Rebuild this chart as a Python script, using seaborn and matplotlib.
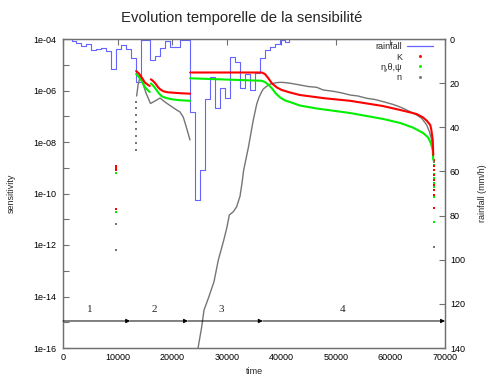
import numpy as np
import pandas as pd
import matplotlib
matplotlib.use("Agg")
import matplotlib.pyplot as plt
import seaborn as sns
from matplotlib.lines import Line2D
from matplotlib.ticker import FixedLocator, FuncFormatter, NullLocator

# ---------------------------------------------------------------- data
# rainfall intensity (mm/h), each value holds from its time to the next one
rain_time = [0, 1650, 2440, 3350, 4270, 5190, 6100, 7020, 7940, 8850,
             9770, 10680, 11600, 12520, 13380, 14350, 16000, 16910, 17830, 18750,
             19660, 21500, 23330, 24190, 25110, 26020, 26940, 27850, 28770, 29690,
             30600, 31520, 32440, 33350, 34270, 35180, 36100, 37020, 37930, 38850,
             39770, 40590, 41420, 70000]
rain_rate = [0, 1.0, 1.8, 3.3, 2.3, 4.8, 4.5, 4.1, 5.3, 13.6,
             4.5, 2.6, 4.5, 8.6, 19.6, 0.3, 9.7, 7.6, 4.1, 1.0,
             3.6, 0.3, 33.2, 73.0, 59.2, 27.2, 17.4, 31.3, 22.2, 26.7,
             8.3, 10.6, 22.2, 15.9, 23.1, 15.4, 8.6, 5.0, 3.6, 2.3,
             0.5, 1.5, 0, 0]

# sensitivities, stored as log10 values, one list per continuous branch
k_time_a = [13400, 13900, 14500, 15000, 15600, 15900]
k_log_a = [-5.243, -5.340, -5.515, -5.689, -5.786, -5.825]
k_time_b = [16100, 16500, 16900, 17400, 17800, 18400, 19200, 20200, 21400, 23300]
k_log_b = [-5.565, -5.631, -5.720, -5.864, -5.953, -6.031, -6.070, -6.085, -6.105, -6.124]
k_time_c = [23300, 36400, 37000, 37600, 38300, 39200, 40100, 41600, 43400, 48000,
            52600, 58600, 61800, 64800, 66000, 66700, 67300, 67500, 67750, 67850]
k_log_c = [-5.301, -5.301, -5.359, -5.515, -5.728, -5.883, -5.981, -6.078, -6.175, -6.303,
           -6.400, -6.602, -6.757, -6.913, -7.049, -7.184, -7.340, -7.534, -7.922, -8.505]
k_dot_time = [9800, 9800, 9800, 9800, 67950, 67950, 67950, 67950, 67950, 67950, 67950, 67950, 67950]
k_dot_log = [-8.93, -9.01, -9.09, -10.61, -8.70, -8.93, -9.09, -9.28, -9.48, -9.67, -9.86, -10.06, -10.58]

e_time_a = [13400, 13900, 14500, 15000, 15600, 15900]
e_log_a = [-5.359, -5.476, -5.650, -5.864, -6.000, -6.058]
e_time_b = [16100, 16500, 17000, 17600, 18100, 18900, 20000, 21400, 23300]
e_log_b = [-5.728, -5.806, -5.942, -6.117, -6.225, -6.291, -6.342, -6.377, -6.400]
e_time_c = [23300, 29700, 36400, 37000, 37600, 38300, 39000, 39800, 40700, 41600,
            43400, 46500, 52600, 58700, 61800, 64100, 66000, 66900, 67400, 67750, 67850]
e_log_c = [-5.526, -5.573, -5.623, -5.670, -5.767, -5.922, -6.117, -6.272, -6.388, -6.447,
           -6.583, -6.699, -6.874, -7.107, -7.262, -7.437, -7.650, -7.825, -8.039, -8.311, -8.699]
e_dot_time = [9800, 9800, 9800, 67950, 67950, 67950, 67950, 67950, 67950, 67950, 67950]
e_dot_log = [-9.19, -9.22, -10.73, -8.89, -9.09, -9.24, -9.40, -9.59, -9.75, -10.14, -11.11]

n_time_a = [13500, 13750, 14200, 14660, 15210, 16030, 16860, 17780, 18690, 19610,
            20840, 21440, 22050, 22540, 23270]
n_log_a = [-6.214, -5.786, -5.398, -5.748, -6.097, -6.505, -6.408, -6.291, -6.447, -6.583,
           -6.757, -6.835, -7.041, -7.379, -7.922]
n_time_c = [24460, 24790, 25420, 25840, 26630, 27670, 28460, 29380, 30000, 30480,
            31210, 31830, 32440, 32800, 33100, 33960, 34870, 35500, 35920, 36410,
            36710, 37620, 38300, 39160, 39770, 40680, 41600, 43430, 44900, 46490,
            47700, 49530, 51130, 52590, 54060, 55650, 57170, 58700, 60530, 61760,
            62980, 64820, 65730, 66650, 67160, 67560, 67860]
n_log_c = [-16.466, -15.950, -15.173, -14.524, -14.070, -13.425, -12.583, -11.872, -11.351, -10.835,
           -10.707, -10.513, -10.100, -9.600, -9.100, -8.220, -7.146, -6.524, -6.264, -6.047,
           -5.942, -5.786, -5.728, -5.697, -5.682, -5.693, -5.717, -5.786, -5.845, -5.876,
           -5.981, -6.031, -6.097, -6.175, -6.214, -6.303, -6.350, -6.435, -6.544, -6.641,
           -6.757, -6.951, -7.080, -7.340, -7.612, -7.922, -8.505]
n_dot_time = [9800, 9800, 13430, 13430, 13430, 13430, 13430, 13430, 13430, 13430,
              67990, 67990, 67990]
n_dot_log = [-11.196, -12.194, -8.311, -8.039, -7.767, -7.495, -7.223, -6.951, -6.680, -6.447,
             -8.777, -9.087, -12.089]

# simulation periods (end time of each) and their labels
period_end = [12300, 22900, 36600, 70000]
period_label_time = [4950, 16730, 28950, 51180]
period_labels = ["1", "2", "3", "4"]
period_line_log = -14.951
period_text_log = -14.524


def branches(*pairs):
    frames = []
    for i, (t, lg) in enumerate(pairs):
        frames.append(pd.DataFrame({"time": t, "sens": 10.0 ** np.asarray(lg), "branch": i}))
    return pd.concat(frames, ignore_index=True)


k_df = branches((k_time_a, k_log_a), (k_time_b, k_log_b), (k_time_c, k_log_c))
e_df = branches((e_time_a, e_log_a), (e_time_b, e_log_b), (e_time_c, e_log_c))
n_df = branches((n_time_a, n_log_a), (n_time_c, n_log_c))

# ---------------------------------------------------------------- style
sns.set_theme(style="white")
plt.rcParams["font.family"] = ["Liberation Sans", "DejaVu Sans"]

RED = "#ff0000"
GREEN = "#00f000"
GRAY = "#757575"
BLUE = "#6464ff"
FRAME = "#707070"
FS = 6.5

fig = plt.figure(figsize=(4.9, 3.75), dpi=100)
ax = fig.add_axes([63 / 490, 27 / 375, 382 / 490, 309 / 375])
ax2 = ax.twinx()

# rainfall on the right axis, drawn underneath the sensitivities
sns.lineplot(x=rain_time, y=rain_rate, ax=ax2, color=BLUE, lw=0.8,
             drawstyle="steps-post", estimator=None)
ax2.set_ylim(140, 0)
ax.set_zorder(ax2.get_zorder() + 1)
ax.patch.set_visible(False)

ax.set_yscale("log")
for df, col, lw in ((n_df, GRAY, 1.0), (e_df, GREEN, 1.5), (k_df, RED, 1.5)):
    sns.lineplot(data=df, x="time", y="sens", units="branch", estimator=None,
                 sort=False, color=col, lw=lw, ax=ax)

for t, lg, col in ((n_dot_time, n_dot_log, GRAY), (e_dot_time, e_dot_log, GREEN),
                   (k_dot_time, k_dot_log, RED)):
    sns.scatterplot(x=t, y=10.0 ** np.asarray(lg), color=col, s=1.0, marker="s",
                    linewidth=0, ax=ax)

# period arrows and numbers
y_line = 10.0 ** period_line_log
start = 0
for end in period_end:
    ax.annotate("", xy=(end, y_line), xytext=(start, y_line),
                arrowprops=dict(arrowstyle="-|>", color="black", lw=0.7,
                                mutation_scale=6, shrinkA=0, shrinkB=0))
    start = end
for t, lab in zip(period_label_time, period_labels):
    ax.text(t, 10.0 ** period_text_log, lab, ha="center", va="center",
            fontsize=8, family=["Liberation Serif", "DejaVu Serif"])

# axes
ax.set_xlim(0, 70000)
ax.set_ylim(1e-16, 1e-4)
ax.set_xticks(range(0, 70001, 10000))
ax.set_xticklabels([str(v) for v in range(0, 70001, 10000)])
ax.yaxis.set_major_locator(FixedLocator([10.0 ** e for e in range(-16, -3)]))
ax.yaxis.set_minor_locator(NullLocator())


def dec_label(v, _):
    e = int(round(np.log10(v)))
    return f"1e-{abs(e):02d}" if e % 2 == 0 else ""


ax.yaxis.set_major_formatter(FuncFormatter(dec_label))
ax.tick_params(axis="both", direction="in", length=4, width=0.8, color=FRAME,
               labelcolor="black", labelsize=FS)
ax.tick_params(axis="x", top=True, pad=3.5)
ax.tick_params(axis="y", left=True, right=False, pad=5)
ax2.set_yticks(range(0, 141, 20))
ax2.tick_params(axis="y", direction="in", length=4, width=0.8, color=FRAME,
                labelcolor="black", labelsize=FS, right=True, left=False, pad=3.5)

for a in (ax, ax2):
    for sp in a.spines.values():
        sp.set_color(FRAME)
        sp.set_linewidth(0.9)

ax.set_xlabel("time", fontsize=FS)
ax.set_ylabel("sensitivity", fontsize=FS)
ax2.set_ylabel("rainfall (mm/h)", fontsize=FS)
ax.xaxis.set_label_coords(0.5, -0.063)
ax.yaxis.set_label_coords(-0.123, 0.5)
ax2.yaxis.set_label_coords(1.086, 0.5)

handles = [Line2D([0], [0], color=BLUE, lw=0.9),
           Line2D([0], [0], ls="", marker="s", ms=1.0, color=RED),
           Line2D([0], [0], ls="", marker="s", ms=1.0, color=GREEN),
           Line2D([0], [0], ls="", marker="s", ms=1.0, color=GRAY)]
labels = ["rainfall", "K", "\u03b7,\u03b8,\u03c8", "n"]
ax.legend(handles, labels, loc="upper right", bbox_to_anchor=(0.9686, 0.9887),
          frameon=False, markerfirst=False, fontsize=FS, handlelength=2.9,
          handletextpad=0.55, labelspacing=0.12, borderpad=0, borderaxespad=0)

fig.text(0.494, 0.952, "Evolution temporelle de la sensibilit\u00e9",
         ha="center", va="center", fontsize=10.7)

fig.savefig("out.png", dpi=100)
